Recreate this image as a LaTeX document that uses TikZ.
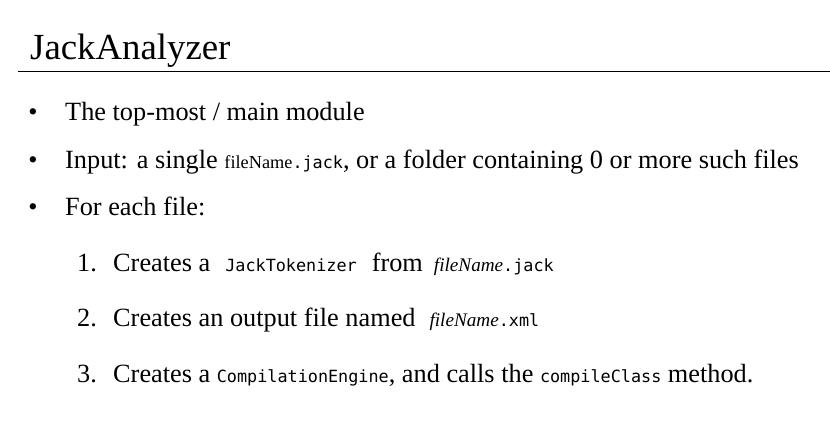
\documentclass[tikz,border=0pt]{standalone}
\usepackage{fontspec}
\setmainfont{Liberation Serif}
\newfontfamily\codefont{DejaVu Sans Mono}
\usepackage{tikz}
\newcommand{\code}[1]{{\codefont\fontsize{16.8}{20}\selectfont #1}}
\newcommand{\fname}{{\fontsize{18.3}{22}\selectfont fileName}}
\newcommand{\fnameit}{{\fontsize{19.2}{22}\selectfont\itshape fileName}}
\tikzset{titletext/.style={anchor=base west, inner sep=0pt, font=\fontsize{36.8}{44}\selectfont},
  bodytext/.style={anchor=base west, inner sep=0pt, font=\fontsize{26.3}{32}\selectfont},
  dotmark/.style={anchor=base, inner sep=0pt, font=\fontsize{26.3}{32}\selectfont}}

\begin{document}
\begin{tikzpicture}[x=1pt,y=-1pt]
  \useasboundingbox (0,0) rectangle (830,431);
  % title and rule
  \node[titletext] (title) at (30,59) {JackAnalyzer};
  \coordinate (ruleL) at (18,71.5);
  \coordinate (ruleR) at (830,71.5);
  \draw[line width=1.6pt] (ruleL) -- (ruleR);

  % bullets
  \foreach \yy/\nm in {120/dotA,168/dotB,215/dotC}
    \node[dotmark] (\nm) at (33,\yy) {\textbullet};
  \node[bodytext] (lineA) at (65,120) {The top-most / main module};
  \node[bodytext] (lineB) at (65,168) {Input: a single \fname\code{.jack}, or a folder containing 0 or more such files};
  \node[bodytext] (lineC) at (65,215) {For each file:};

  % numbered steps
  \foreach \yy/\nm/\lab in {271/numA/1.,326/numB/2.,382/numC/3.}
    \node[bodytext] (\nm) at (77,\yy) {\lab};
  \node[bodytext] (stepA) at (113,271) {Creates a\hspace{15pt}\code{JackTokenizer}\hspace{15pt}from\hspace{11pt}\fnameit\code{.jack}};
  \node[bodytext] (stepB) at (113,326) {Creates an output file named\hspace{14pt}\fnameit\code{.xml}};
  \node[bodytext] (stepC) at (113,382) {Creates a \code{CompilationEngine}, and calls the \code{compileClass} method.};
\end{tikzpicture}
\end{document}
